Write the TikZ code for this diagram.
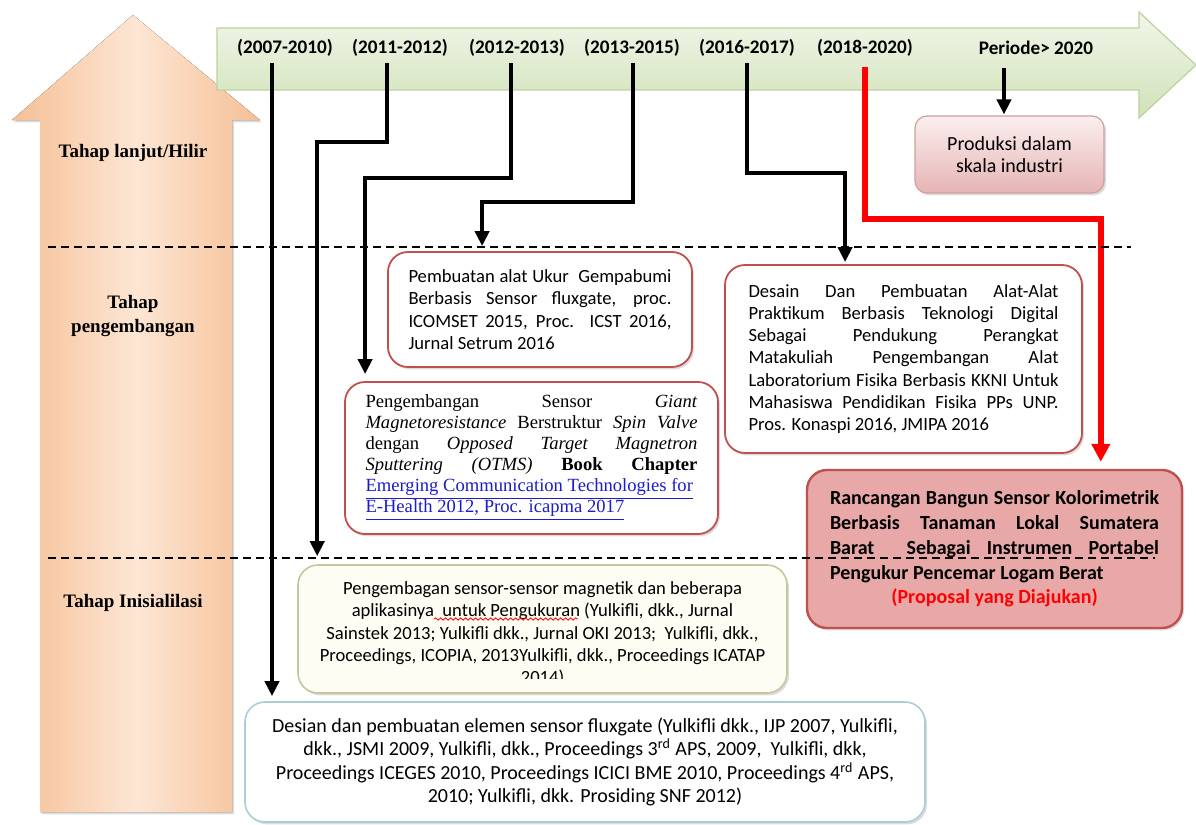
\documentclass[tikz,border=0pt]{standalone}
\usepackage{fontspec}
\setmainfont{Liberation Serif}
\newfontfamily\calib{Carlito}
\usetikzlibrary{arrows.meta,shadows,decorations.pathmorphing}

\definecolor{orEdge}{HTML}{F5BF95}
\definecolor{orMid}{HTML}{FDE6D4}
\definecolor{grTop}{HTML}{F1F6EA}
\definecolor{grBot}{HTML}{D0E2B8}
\definecolor{grEdge}{HTML}{BCD1A0}
\definecolor{boxRed}{HTML}{C0504D}
\definecolor{propFill}{HTML}{E8A8A8}
\definecolor{prodTop}{HTML}{FBEFEF}
\definecolor{prodBot}{HTML}{E6B4B4}
\definecolor{prodEdge}{HTML}{CFA0A0}
\definecolor{inisFill}{HTML}{FDFDF3}
\definecolor{inisEdge}{HTML}{C4C79E}
\definecolor{desEdge}{HTML}{A8CFD9}
\definecolor{lnk}{HTML}{1C1CC8}

\tikzset{
  period/.style={font=\calib\bfseries\fontsize{9.6}{11}\selectfont, inner sep=0pt},
  tahap/.style={font=\bfseries\fontsize{9.5}{12.5}\selectfont, align=center, inner sep=0pt},
  conn/.style={line width=2.2pt, -{Triangle[length=7.5pt,width=7pt]}},
  redconn/.style={line width=3pt, draw=red, -{Triangle[length=9pt,width=9pt]}},
  phase/.style={line width=0.7pt, dash pattern=on 4pt off 2.5pt},
  boxshadow/.style={drop shadow={shadow xshift=1pt, shadow yshift=-1.2pt, opacity=0.3, fill=black!45}},
  pubbox/.style={draw=boxRed, line width=0.9pt, fill=white, rounded corners=10pt, boxshadow,
    align=justify, inner sep=0pt, font=\calib\fontsize{9.3}{11.15}\selectfont},
  propbox/.style={draw=boxRed, line width=1.2pt, fill=propFill, rounded corners=10pt, boxshadow,
    align=justify, inner sep=0pt, font=\calib\bfseries\fontsize{10}{12.4}\selectfont},
  prodbox/.style={draw=prodEdge, line width=0.6pt, top color=prodTop, bottom color=prodBot,
    rounded corners=6pt, boxshadow, align=center, inner sep=0pt,
    font=\calib\fontsize{10}{11.2}\selectfont},
  inisbox/.style={draw=inisEdge, line width=0.8pt, fill=inisFill, rounded corners=10pt, boxshadow},
  desbox/.style={draw=desEdge, line width=0.8pt, fill=white, rounded corners=10pt, boxshadow,
    align=center, inner sep=0pt, font=\calib\fontsize{10}{11.7}\selectfont},
  spell/.style={red, line width=0.4pt, decorate, decoration={snake, amplitude=0.6pt, segment length=2.5pt}}
}

\begin{document}
\begin{tikzpicture}[x=0.5pt,y=-0.5pt]
        \useasboundingbox (0,0) rectangle (1196,825) ;
        % panah tahap
        \fill[left color=orEdge, right color=orEdge, middle color=orMid, boxshadow]
        (40,812) -- (40,120) -- (12,120) -- (133,15) -- (260,120) -- (232,120) -- (232,812) -- cycle ;
        % panah periode
        \draw[draw=grEdge, line width=0.6pt, top color=grTop, bottom color=grBot]
        (217,28) -- (1139,28) -- (1139,12) -- (1196,65) -- (1139,118) -- (1139,90) -- (217,90) -- cycle ;

        \node[period] (lab1) at (285,48) {(2007-2010)} ;
        \node[period] (lab2) at (400,48) {(2011-2012)} ;
        \node[period] (lab3) at (517,48) {(2012-2013)} ;
        \node[period] (lab4) at (632,48) {(2013-2015)} ;
        \node[period] (lab5) at (747,48) {(2016-2017)} ;
        \node[period] (lab6) at (865,48) {(2018-2020)} ;
        \node[period] (lab7) at (1036,48) {Periode> 2020} ;

        \node[tahap] (hilir) at (133,153) {Tahap lanjut/Hilir} ;
        \node[tahap] (kembang) at (133,316) {Tahap\\pengembangan} ;
        \node[tahap] (inisial) at (133,603) {Tahap Inisialilasi} ;

        % kotak
        \node[prodbox, minimum width=94.5pt, minimum height=38.5pt] (prod) at (1009.5,154.5)
        {Produksi dalam\\skala industri} ;
        \node[pubbox, minimum width=152pt, minimum height=57.5pt, text width=131.5pt] (pemb) at (540,309.5)
        {Pembuatan alat Ukur\ \ Gempabumi\linebreak
        Berbasis Sensor fluxgate, proc.\linebreak
        ICOMSET 2015, Proc. ICST 2016,\linebreak
        Jurnal Setrum 2016} ;
        \node[pubbox, minimum width=186.5pt, minimum height=76pt, text width=166pt,
        font=\fontsize{9.3}{10.5}\selectfont] (gmr) at (531.5,458)
        {Pengembangan Sensor \textit{Giant}\linebreak
        \textit{Magnetoresistance} Berstruktur \textit{Spin Valve}\linebreak
        dengan \textit{Opposed Target Magnetron}\linebreak
        \textit{Sputtering (OTMS)} \textbf{Book Chapter}\linebreak
        {\color{lnk}\underline{Emerging Communication Technologies for}}\linebreak
        {\color{lnk}\underline{E-Health 2012, Proc. icapma 2017}}} ;
        \node[pubbox, minimum width=178.5pt, minimum height=94pt, text width=155pt] (desain) at (903.5,359)
        {Desain Dan Pembuatan Alat-Alat\linebreak
        Praktikum Berbasis Teknologi Digital\linebreak
        Sebagai Pendukung Perangkat\linebreak
        Matakuliah Pengembangan Alat\linebreak
        Laboratorium Fisika Berbasis KKNI Untuk\linebreak
        Mahasiswa Pendidikan Fisika PPs UNP.\linebreak
        Pros. Konaspi 2016, JMIPA 2016} ;
        \node[propbox, minimum width=187.5pt, minimum height=79pt, text width=164.5pt] (prop) at (994.5,549)
        {Rancangan Bangun Sensor Kolorimetrik\linebreak
        Berbasis Tanaman Lokal Sumatera\linebreak
        Barat\ \ Sebagai Instrumen Portabel\linebreak
        Pengukur Pencemar Logam Berat\par
        {\centering\color{red}(Proposal yang Diajukan)\par}} ;
        \node[inisbox, minimum width=244.5pt, minimum height=64pt] (inis) at (542.5,629) {} ;
        \begin{scope}
          \clip (299,566) rectangle (786,678) ;
          \node[align=center, inner sep=0pt, font=\calib\fontsize{9.3}{11.17}\selectfont] (inistext) at (542.5,634)
          {Pengembagan sensor-sensor magnetik dan beberapa\\
          aplikasinya\ \ untuk Pengukuran (Yulkifli, dkk., Jurnal\\
          Sainstek 2013; Yulkifli dkk., Jurnal OKI 2013;\ \ Yulkifli, dkk.,\\
          Proceedings, ICOPIA, 2013Yulkifli, dkk., Proceedings ICATAP\\
          2014)} ;
        \end{scope}
        \draw[spell] (434,619) -- (578,619) ;
        \node[desbox, minimum width=340pt, minimum height=60pt] (desian) at (585,762)
        {Desian dan pembuatan elemen sensor fluxgate (Yulkifli dkk., IJP 2007, Yulkifli,\\
        dkk., JSMI 2009, Yulkifli, dkk., Proceedings 3\textsuperscript{rd} APS, 2009,\ \ Yulkifli, dkk,\\
        Proceedings ICEGES 2010, Proceedings ICICI BME 2010, Proceedings 4\textsuperscript{rd} APS,\\
        2010; Yulkifli, dkk. Prosiding SNF 2012)} ;

        % garis periode
        \coordinate (s1) at (272,63) ;
        \coordinate (s2) at (387,63) ;
        \coordinate (s3) at (511,63) ;
        \coordinate (s4) at (633,63) ;
        \coordinate (s5) at (747,63) ;
        \coordinate (s6) at (865,67) ;
        \coordinate (s7) at (1004,68) ;
        \draw[conn, shorten >=2.5pt] (s1) -- (s1 |- desian.north) ;
        \draw[conn, shorten >=4pt] (s2) -- ++(0,79) -| ([xshift=10pt]inis.north west) ;
        \draw[conn, shorten >=3.5pt] (s3) -- ++(0,115) -| ([xshift=10.5pt]gmr.north west) ;
        \draw[conn, shorten >=2.5pt] (s4) -- ++(0,139) -| ([xshift=47.5pt]pemb.north west) ;
        \draw[conn, shorten >=1pt] (s5) -- ++(0,110) -| ([xshift=60.5pt]desain.north west) ;
        \draw[redconn, shorten >=3.5pt] (s6) -- ++(0,152) -| ([xshift=147.5pt]prop.north west) ;
        \draw[conn, shorten >=0.5pt] (s7) -- (s7 |- prod.north) ;

        % batas tahap
        \draw[phase] (48,247) -- (1131,247) ;
        \draw[phase] (48,558) -- (1155,558) ;
\end{tikzpicture}
\end{document}
